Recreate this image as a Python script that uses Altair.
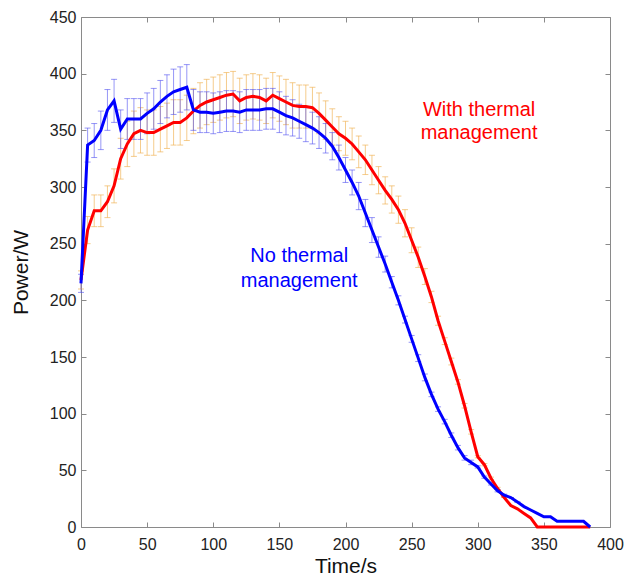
import altair as alt
import pandas as pd

# Time axis (s), sampled every 5 s
time = list(range(0, 390, 5))

# No thermal management (blue)
no_tm = [215, 337, 341, 350, 368, 376, 351, 360, 360, 360,
         365, 369, 375, 380, 384, 386, 388, 368, 366, 366,
         365, 366, 367, 367, 366, 368, 368, 368, 369, 369,
         366, 363, 361, 358, 355, 352, 348, 343, 336, 326,
         315, 304, 292, 277, 262, 247, 232, 216, 200, 183,
         166, 149, 132, 117, 104, 93, 81, 70, 61, 57,
         53, 44, 38, 32, 28, 26, 22, 18, 15, 12,
         9, 9, 5, 5, 5, 5, 5, 0]
no_tm_err = [8, 15, 15, 17, 18, 19, 17, 18, 18, 18,
             18, 18, 19, 19, 20, 20, 20, 18, 18, 18,
             18, 18, 18, 18, 18, 18, 18, 18, 18, 18,
             18, 17, 16, 15, 15, 14, 14, 13, 12, 11,
             11, 11, 12, 12, 11, 9, 7, 5, 4, 3,
             3, 3, 3, 2, 2, 2, 2, 2, 2, 2,
             1, 1, 1, 1, 1, 0, 0, 0, 0, 0,
             0, 0, 0, 0, 0, 0, 0, 0]

# With thermal management (red)
with_tm = [218, 262, 279, 279, 287, 301, 325, 338, 347, 350,
           348, 348, 351, 354, 357, 357, 361, 367, 372, 375,
           377, 379, 381, 382, 376, 379, 380, 379, 376, 381,
           378, 375, 372, 371, 371, 370, 365, 359, 353, 347,
           343, 338, 331, 324, 315, 306, 297, 289, 280, 268,
           253, 238, 221, 203, 182, 164, 146, 128, 107, 84,
           62, 55, 43, 34, 26, 19, 16, 12, 8, 0,
           0, 0, 0, 0, 0, 0, 0, 0]
with_tm_err = [8, 12, 14, 14, 14, 15, 18, 20, 20, 20,
               20, 20, 20, 20, 20, 20, 20, 20, 20, 20,
               20, 20, 20, 20, 20, 20, 20, 20, 20, 20,
               20, 20, 20, 19, 19, 18, 18, 17, 16, 15,
               15, 14, 14, 13, 13, 12, 12, 12, 12, 12,
               11, 9, 7, 5, 4, 3, 3, 2, 2, 2,
               1, 1, 1, 1, 0, 0, 0, 0, 0, 0,
               0, 0, 0, 0, 0, 0, 0, 0]

# Annotation text
label_text = ["With thermal", "management", "No thermal", "management"]
label_t = [301, 301, 165, 165]
label_p = [363, 342.5, 234, 212]
label_group = ["with", "with", "no", "no"]

FONT = "Liberation Sans"
RED = "#FF0000"
BLUE = "#0000FF"

blue_df = pd.DataFrame({"t": time, "p": no_tm,
                        "lo": [p - e for p, e in zip(no_tm, no_tm_err)],
                        "hi": [p + e for p, e in zip(no_tm, no_tm_err)]})
red_df = pd.DataFrame({"t": time, "p": with_tm,
                       "lo": [p - e for p, e in zip(with_tm, with_tm_err)],
                       "hi": [p + e for p, e in zip(with_tm, with_tm_err)]})
blue_eb = blue_df[blue_df.t <= 330]
red_eb = red_df[red_df.t <= 320]
labels_df = pd.DataFrame({"txt": label_text, "t": label_t, "p": label_p, "g": label_group})

xscale = alt.Scale(domain=[0, 400], nice=False, zero=False)
yscale = alt.Scale(domain=[0, 450], nice=False)

x_axis = alt.Axis(values=list(range(0, 401, 50)), title="Time/s", domain=False, grid=False,
                  offset=-5, tickSize=5, tickColor="#8a8a8a", labelPadding=9,
                  labelFlush=False, labelOverlap=False,
                  labelFontSize=16, labelColor="#222222", labelFont=FONT,
                  titleFontSize=21, titleFont=FONT, titleFontWeight="normal",
                  titleColor="#111111", titlePadding=3)
y_axis = alt.Axis(values=list(range(0, 451, 50)), title="Power/W", domain=False, grid=False,
                  offset=-5, tickSize=5, tickColor="#8a8a8a", labelPadding=5,
                  labelFlush=False, labelOverlap=False,
                  labelFontSize=16, labelColor="#222222", labelFont=FONT,
                  titleFontSize=21, titleFont=FONT, titleFontWeight="normal",
                  titleColor="#111111", titlePadding=18)

# base layer carrying the main axes
main = alt.Chart(red_df).mark_line(color=RED, strokeWidth=3).encode(
    x=alt.X("t:Q", scale=xscale, axis=x_axis),
    y=alt.Y("p:Q", scale=yscale, axis=y_axis),
)


def X(field="t"):
    return alt.X(f"{field}:Q", scale=xscale, axis=None)


def Y(field="p"):
    return alt.Y(f"{field}:Q", scale=yscale, axis=None)


def errbars(df, color, opacity):
    rule = alt.Chart(df).mark_rule(color=color, opacity=opacity, strokeWidth=1).encode(
        x=X(), y=Y("lo"), y2="hi:Q")
    cap_lo = alt.Chart(df).mark_rule(color=color, opacity=opacity, strokeWidth=1,
                                     xOffset=-3, x2Offset=3).encode(
        x=X(), x2="t:Q", y=Y("lo"))
    cap_hi = alt.Chart(df).mark_rule(color=color, opacity=opacity, strokeWidth=1,
                                     xOffset=-3, x2Offset=3).encode(
        x=X(), x2="t:Q", y=Y("hi"))
    return [rule, cap_lo, cap_hi]


red_bars = errbars(red_eb, "#F0B050", 0.65)
blue_bars = errbars(blue_eb, "#5050F0", 0.6)

blue_line = alt.Chart(blue_df).mark_line(color=BLUE, strokeWidth=3).encode(x=X(), y=Y())

texts = alt.Chart(labels_df).mark_text(font=FONT, fontSize=20, align="center",
                                       baseline="alphabetic").encode(
    x=X(), y=Y(),
    text="txt:N",
    color=alt.Color("g:N", scale=alt.Scale(domain=["with", "no"], range=[RED, BLUE]),
                    legend=None),
)

# mirrored inward ticks on top and right
mirror = alt.Chart(red_df).mark_line(opacity=0).encode(
    x=alt.X("t:Q", scale=xscale,
            axis=alt.Axis(orient="top", values=list(range(0, 401, 50)), labels=False,
                          title=None, domain=False, grid=False, offset=-5, tickSize=5,
                          tickColor="#8a8a8a")),
    y=alt.Y("p:Q", scale=yscale,
            axis=alt.Axis(orient="right", values=list(range(0, 451, 50)), labels=False,
                          title=None, domain=False, grid=False, offset=-5, tickSize=5,
                          tickColor="#8a8a8a")),
)

chart = alt.layer(
    *red_bars, *blue_bars, main, blue_line, texts, mirror
).resolve_axis(x="independent", y="independent").properties(
    width=529, height=510,
    autosize=alt.AutoSizeParams(type="none"),
    padding={"left": 73, "top": 9, "right": 14, "bottom": 50},
    background="white",
).configure_view(stroke="#8a8a8a", strokeWidth=1)

chart.save("out.html", embed_options={"renderer": "svg", "actions": False})
